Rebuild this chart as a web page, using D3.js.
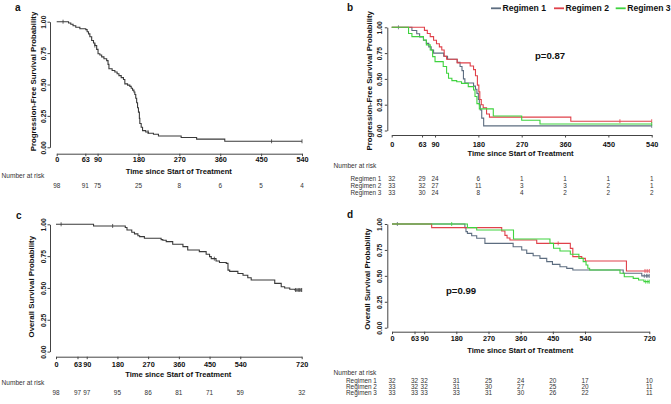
<!DOCTYPE html>
<html><head><meta charset="utf-8">
<script src="https://cdn.jsdelivr.net/npm/d3@7"></script>
<style>body{margin:0;background:#fff}svg{display:block;font-family:"Liberation Sans",Arial,sans-serif}</style>
</head><body>
<script>
// ---------- DATA ----------
const ticksPFS = [0, 63, 90, 180, 270, 360, 450, 540];
const ticksOS = [0, 63, 90, 180, 270, 360, 450, 540, 720];
const yTicks = [0, 0.25, 0.5, 0.75, 1];
const regimens = ["Regimen 1", "Regimen 2", "Regimen 3"];
const pValuePFS = "p=0.87";
const pValueOS = "p=0.99";

// panel a: PFS, all patients  [time, survival]
const pfsAll = [[0,1],[26,0.99],[31,0.98],[36,0.968],[42,0.956],[51,0.944],[64,0.937],[67,0.92],[70,0.903],[73,0.88],[77,0.85],[81,0.83],[84,0.81],[88,0.78],[91,0.745],[95,0.735],[99,0.72],[104,0.705],[110,0.69],[113,0.66],[115,0.625],[122,0.612],[128,0.6],[133,0.585],[137,0.571],[142,0.555],[147,0.54],[150,0.505],[156,0.495],[161,0.485],[164,0.47],[167,0.455],[170,0.44],[172,0.42],[174,0.39],[176,0.355],[178,0.315],[180,0.28],[182,0.23],[183,0.19],[186,0.16],[189,0.133],[196,0.122],[202,0.112],[213,0.104],[224,0.09],[274,0.078],[308,0.065],[370,0.048]];
const pfsAllCensor = [14, 84, 201, 473, 540];
const pfsAllRisk = [98, 91, 75, 25, 8, 6, 5, 4];

// panel b: PFS by regimen
const pfsR1 = [[0,1],[42,0.969],[52,0.938],[58,0.906],[66,0.875],[72,0.844],[77,0.81],[82,0.78],[87,0.75],[108,0.72],[116,0.69],[136,0.66],[142,0.62],[146,0.58],[149,0.5],[152,0.46],[170,0.43],[174,0.4],[177,0.36],[180,0.3],[182,0.25],[184,0.2],[187,0.12],[191,0.045]];
const pfsR2 = [[0,1],[68,0.97],[74,0.94],[80,0.91],[87,0.875],[93,0.84],[99,0.81],[104,0.78],[109,0.72],[114,0.69],[136,0.655],[163,0.625],[170,0.59],[174,0.53],[178,0.44],[181,0.375],[183,0.3],[186,0.25],[190,0.22],[197,0.16],[203,0.13],[372,0.09]];
const pfsR3 = [[0,1],[35,0.94],[42,0.91],[66,0.877],[72,0.83],[80,0.78],[85,0.716],[90,0.667],[107,0.62],[114,0.555],[118,0.506],[125,0.483],[135,0.473],[145,0.457],[159,0.425],[170,0.393],[173,0.33],[177,0.26],[182,0.21],[211,0.14],[270,0.1],[308,0.063]];
const pfsR1Censor = [14, 540];
const pfsR2Censor = [474, 540];
const pfsR3Censor = [540];
const pfsR1Risk = [32, 29, 24, 6, 1, 1, 1, 1];
const pfsR2Risk = [33, 32, 27, 11, 3, 3, 2, 1];
const pfsR3Risk = [33, 30, 24, 8, 4, 2, 2, 2];

// panel c: OS, all patients
const osAll = [[0,1],[110,0.987],[203,0.975],[208,0.955],[222,0.937],[230,0.925],[240,0.91],[245,0.903],[259,0.89],[308,0.88],[313,0.875],[323,0.864],[342,0.843],[372,0.825],[386,0.798],[420,0.785],[440,0.765],[450,0.746],[455,0.73],[469,0.712],[479,0.7],[499,0.693],[504,0.64],[509,0.63],[533,0.614],[548,0.6],[562,0.58],[572,0.562],[641,0.536],[660,0.51],[670,0.5],[685,0.49],[700,0.484]];
const osAllCensor = [15, 166, 464, 702, 706, 710, 714, 718, 720];
const osAllRisk = [98, 97, 97, 95, 86, 81, 71, 59, 32];

// panel d: OS by regimen
const osR1 = [[0,1],[204,0.965],[207,0.926],[211,0.91],[223,0.887],[237,0.862],[260,0.813],[339,0.781],[363,0.749],[377,0.717],[395,0.694],[414,0.669],[433,0.637],[449,0.611],[470,0.588],[489,0.572],[506,0.556],[647,0.525],[699,0.5]];
const osR2 = [[0,1],[111,0.965],[307,0.932],[316,0.89],[322,0.865],[330,0.845],[405,0.813],[499,0.765],[506,0.685],[531,0.669],[541,0.643],[656,0.547]];
const osR3 = [[0,1],[211,0.965],[237,0.942],[340,0.855],[442,0.813],[452,0.766],[470,0.74],[499,0.708],[523,0.669],[535,0.637],[543,0.604],[548,0.573],[553,0.556],[638,0.525],[650,0.492],[675,0.476],[690,0.46],[705,0.444]];
const osR1Censor = [15, 706, 712, 716, 720];
const osR2Censor = [465, 708, 714, 720];
const osR3Censor = [167, 710, 716, 720];
const osR1Risk = [32, 32, 32, 31, 25, 24, 20, 17, 10];
const osR2Risk = [33, 32, 32, 31, 30, 27, 25, 20, 11];
const osR3Risk = [33, 33, 33, 33, 31, 30, 26, 22, 11];

// ---------- STYLE ----------
const colAll = "#3a3a3a";
const colors = ["#5d6d80", "#e0414a", "#3fd33f"];
const axisCol = "#444";

const svg = d3.select("body").append("svg").attr("width", 671).attr("height", 404);

function stepAt(curve, t) {
  let s = curve[0][1];
  for (const [tt, ss] of curve) { if (tt <= t) s = ss; }
  return s;
}

function drawPanel(p) {
  const x = d3.scaleLinear().domain([0, p.tmax]).range([p.x0, p.x1]);
  const y = d3.scaleLinear().domain([0, 1]).range([p.yBot, p.yTop]);

  // x axis
  const gx = svg.append("g").attr("transform", `translate(0,${p.axisY})`)
    .call(d3.axisBottom(x).tickValues(p.ticks).tickSize(2.5).tickSizeOuter(0).tickFormat(d3.format("d")));
  gx.select(".domain").attr("stroke", axisCol);
  gx.selectAll(".tick line").attr("stroke", axisCol);
  gx.selectAll("text").attr("y", p.xLabelY - p.axisY).attr("dy", "0.35em")
    .attr("font-size", 7.3).attr("font-weight", "bold").attr("fill", "#111")
    .attr("font-family", "Liberation Sans, Arial, sans-serif");

  // y axis
  const gy = svg.append("g").attr("transform", `translate(${p.axisX},0)`)
    .call(d3.axisLeft(y).tickValues(yTicks).tickSize(2.5).tickSizeOuter(0).tickFormat(d3.format(".2f")));
  gy.select(".domain").attr("stroke", axisCol);
  gy.selectAll(".tick line").attr("stroke", axisCol);
  gy.selectAll("text").attr("x", 0).attr("y", 0)
    .attr("transform", `translate(${p.yLabelX - p.axisX},0) rotate(-90)`)
    .attr("text-anchor", "middle").attr("dy", "0.35em")
    .attr("font-size", 6.8).attr("font-weight", "bold").attr("fill", "#222")
    .attr("font-family", "Liberation Sans, Arial, sans-serif");

  // titles
  svg.append("text").attr("x", p.xTitleX).attr("y", p.xTitleY).attr("dy", "0.35em")
    .attr("text-anchor", "middle").attr("font-size", 7.6).attr("font-weight", "bold").attr("fill", "#111")
    .text("Time since Start of Treatment");
  svg.append("text").attr("transform", `translate(${p.yTitleX},${p.yTitleY}) rotate(-90)`)
    .attr("dy", "0.35em").attr("text-anchor", "middle").attr("font-size", 7.8).attr("font-weight", "bold").attr("fill", "#111")
    .text(p.yTitle);
  svg.append("text").attr("x", p.letterX).attr("y", p.letterY).attr("dy", "0.35em")
    .attr("font-size", 10).attr("font-weight", "bold").attr("fill", "#111").text(p.letter);

  // curves
  const line = d3.line().x(d => x(d[0])).y(d => y(d[1])).curve(d3.curveStepAfter);
  p.series.forEach(sr => {
    const end = d3.max(sr.censor);
    const pts = sr.data.concat([[end, sr.data[sr.data.length - 1][1]]]);
    svg.append("path").datum(pts).attr("d", line).attr("fill", "none")
      .attr("stroke", sr.color).attr("stroke-width", 1.1);
    svg.append("g").selectAll("line").data(sr.censor).join("line")
      .attr("x1", d => x(d)).attr("x2", d => x(d))
      .attr("y1", d => y(stepAt(sr.data, d)) - 2).attr("y2", d => y(stepAt(sr.data, d)) + 2)
      .attr("stroke", sr.color).attr("stroke-width", 0.8);
  });

  // number at risk
  svg.append("text").attr("x", p.nrX).attr("y", p.nrY).attr("dy", "0.35em")
    .attr("font-size", 6.6).attr("fill", "#333").text("Number at risk");
  p.risk.forEach((row, i) => {
    if (row.label) {
      svg.append("text").attr("x", p.rowLabelX).attr("y", p.rowYs[i]).attr("dy", "0.35em")
        .attr("font-size", 6.4).attr("fill", "#333").text(row.label);
    }
    svg.append("g").selectAll("text").data(row.values).join("text")
      .attr("x", (d, j) => x(p.ticks[j])).attr("y", p.rowYs[i]).attr("dy", "0.35em")
      .attr("text-anchor", "middle").attr("font-size", 6.4).attr("fill", "#333").text(d => d);
  });
  return { x, y };
}

// panel a
drawPanel({
  tmax: 540, x0: 56.7, x1: 302, yTop: 21.7, yBot: 147.3, axisX: 50, axisY: 153.7,
  xLabelY: 159.6, yLabelX: 43.3, ticks: ticksPFS,
  xTitleX: 178.8, xTitleY: 171, yTitleX: 33.3, yTitleY: 81.5, yTitle: "Progression-Free Survival Probability",
  letter: "a", letterX: 15, letterY: 7.5,
  series: [{ data: pfsAll, censor: pfsAllCensor, color: colAll }],
  nrX: 1.5, nrY: 176, rowLabelX: 0, rowYs: [185.7],
  risk: [{ label: null, values: pfsAllRisk }]
});

// panel b
drawPanel({
  tmax: 540, x0: 391.7, x1: 651.7, yTop: 27.3, yBot: 130.5, axisX: 387.3, axisY: 135,
  xLabelY: 144, yLabelX: 380, ticks: ticksPFS,
  xTitleX: 520.5, xTitleY: 153.7, yTitleX: 369, yTitleY: 80.8, yTitle: "Progression-Free Survival Probability",
  letter: "b", letterX: 347, letterY: 7.5,
  series: [
    { data: pfsR1, censor: pfsR1Censor, color: colors[0] },
    { data: pfsR2, censor: pfsR2Censor, color: colors[1] },
    { data: pfsR3, censor: pfsR3Censor, color: colors[2] }
  ],
  nrX: 333.5, nrY: 165.7, rowLabelX: 350.5, rowYs: [178.7, 186, 192.7],
  risk: [
    { label: regimens[0], values: pfsR1Risk },
    { label: regimens[1], values: pfsR2Risk },
    { label: regimens[2], values: pfsR3Risk }
  ]
});

// panel c
drawPanel({
  tmax: 720, x0: 56, x1: 301.7, yTop: 224.3, yBot: 351.6, axisX: 50, axisY: 356.7,
  xLabelY: 364.3, yLabelX: 43.3, ticks: ticksOS,
  xTitleX: 178.3, xTitleY: 374, yTitleX: 31.7, yTitleY: 286.7, yTitle: "Overall Survival Probability",
  letter: "c", letterX: 16, letterY: 215,
  series: [{ data: osAll, censor: osAllCensor, color: colAll }],
  nrX: 1.5, nrY: 382.7, rowLabelX: 0, rowYs: [392.7],
  risk: [{ label: null, values: osAllRisk }]
});

// panel d
drawPanel({
  tmax: 720, x0: 392, x1: 649.3, yTop: 224, yBot: 327.7, axisX: 387.3, axisY: 331.7,
  xLabelY: 338.3, yLabelX: 380, ticks: ticksOS,
  xTitleX: 520.3, xTitleY: 350, yTitleX: 367.3, yTitleY: 279, yTitle: "Overall Survival Probability",
  letter: "d", letterX: 347, letterY: 214,
  series: [
    { data: osR1, censor: osR1Censor, color: colors[0] },
    { data: osR2, censor: osR2Censor, color: colors[1] },
    { data: osR3, censor: osR3Censor, color: colors[2] }
  ],
  nrX: 333.5, nrY: 372.7, rowLabelX: 346, rowYs: [380.3, 386.5, 392.7],
  risk: [
    { label: regimens[0], values: osR1Risk },
    { label: regimens[1], values: osR2Risk },
    { label: regimens[2], values: osR3Risk }
  ]
});

// p-values
svg.append("text").attr("x", 535).attr("y", 56).attr("dy", "0.35em")
  .attr("font-size", 9.6).attr("font-weight", "bold").attr("fill", "#111").text(pValuePFS);
svg.append("text").attr("x", 446).attr("y", 290.7).attr("dy", "0.35em")
  .attr("font-size", 9.6).attr("font-weight", "bold").attr("fill", "#111").text(pValueOS);

// legend (panel b)
const legX = [491, 554, 615.7];
const leg = svg.append("g");
regimens.forEach((r, i) => {
  leg.append("line").attr("x1", legX[i]).attr("x2", legX[i] + 10).attr("y1", 8.3).attr("y2", 8.3)
    .attr("stroke", colors[i]).attr("stroke-width", 1.8);
  leg.append("text").attr("x", legX[i] + 11.5).attr("y", 8.3).attr("dy", "0.35em")
    .attr("font-size", 8.6).attr("font-weight", "bold").attr("fill", "#111").text(r);
});
</script>
</body></html>
